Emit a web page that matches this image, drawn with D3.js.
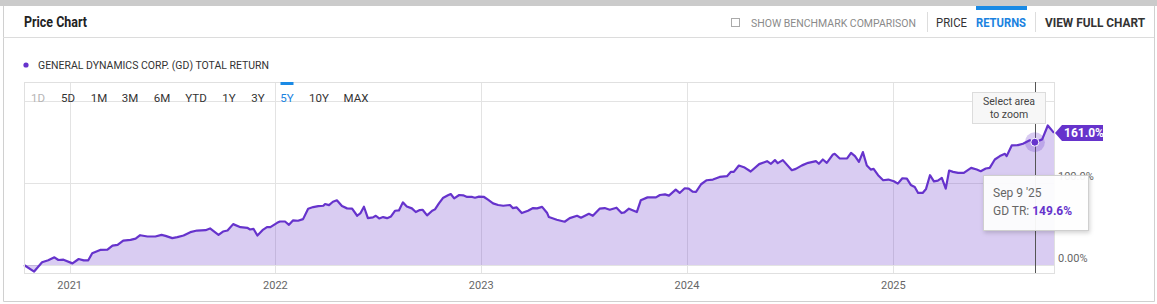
<!DOCTYPE html>
<html>
<head>
<meta charset="utf-8">
<script src="https://cdn.jsdelivr.net/npm/d3@7"></script>
<style>
  body { margin: 0; background: #fff; }
  svg { display: block; font-family: Roboto, "Noto Sans", sans-serif; }
</style>
</head>
<body>
<div id="chart"></div>
<script>
// data (weekly-ish points)
const dates = [
  "2020-10-12","2020-10-30","2020-11-13","2020-11-24","2020-12-05","2020-12-12","2020-12-21",
  "2021-01-06","2021-01-17","2021-01-26","2021-02-03","2021-02-10","2021-02-24","2021-03-09","2021-03-18","2021-03-27",
  "2021-04-06","2021-04-19","2021-04-28","2021-05-06","2021-05-19","2021-06-02","2021-06-13","2021-06-20","2021-07-02",
  "2021-07-11","2021-07-22","2021-08-03","2021-08-15","2021-08-30","2021-09-07","2021-09-22","2021-09-30","2021-10-08",
  "2021-10-18","2021-10-31","2021-11-12","2021-11-17","2021-11-23","2021-11-30","2021-12-09","2021-12-17","2021-12-23",
  "2022-01-04","2022-01-09","2022-01-18","2022-01-25","2022-02-01","2022-02-10","2022-02-19","2022-02-28","2022-03-09",
  "2022-03-18","2022-03-27","2022-03-30","2022-04-06","2022-04-13","2022-04-20","2022-04-29","2022-05-08","2022-05-17",
  "2022-05-26","2022-06-01","2022-06-07","2022-06-14","2022-06-23","2022-06-28","2022-07-04","2022-07-11","2022-07-18",
  "2022-07-25","2022-08-01","2022-08-08","2022-08-15","2022-08-22","2022-08-31","2022-09-07","2022-09-14","2022-09-19",
  "2022-09-27","2022-10-06","2022-10-11","2022-10-18","2022-10-25","2022-11-03","2022-11-08","2022-11-14","2022-11-23",
  "2022-11-30","2022-12-07","2022-12-16","2022-12-21","2022-12-28",
  "2023-01-06","2023-01-13","2023-01-22","2023-01-31","2023-02-09","2023-02-21","2023-02-26","2023-03-05","2023-03-14",
  "2023-03-25","2023-04-03","2023-04-10","2023-04-19","2023-04-28","2023-05-01","2023-05-15","2023-05-29","2023-06-07",
  "2023-06-20","2023-06-27","2023-07-11","2023-07-18","2023-07-30","2023-08-08","2023-08-17","2023-08-29","2023-09-07",
  "2023-09-12","2023-09-20","2023-10-04","2023-10-11","2023-10-23","2023-11-07","2023-11-14","2023-11-23","2023-11-30",
  "2023-12-12","2023-12-19","2023-12-28",
  "2024-01-04","2024-01-11","2024-01-17","2024-01-26","2024-02-05","2024-02-16","2024-02-28","2024-03-12","2024-03-19",
  "2024-03-24","2024-04-02","2024-04-11","2024-04-23","2024-05-08","2024-05-22","2024-05-29","2024-06-05","2024-06-10",
  "2024-06-19","2024-07-05","2024-07-12","2024-07-23","2024-08-03","2024-08-17","2024-08-22","2024-08-29","2024-09-05",
  "2024-09-16","2024-09-19","2024-09-28","2024-10-11","2024-10-18","2024-10-25","2024-11-01","2024-11-08","2024-11-15",
  "2024-11-22","2024-11-27","2024-12-05","2024-12-14","2024-12-23",
  "2025-01-02","2025-01-09","2025-01-17","2025-01-25","2025-02-01","2025-02-08","2025-02-14","2025-02-22","2025-02-28",
  "2025-03-07","2025-03-14","2025-03-21","2025-03-28","2025-04-04","2025-04-10","2025-04-17","2025-04-26","2025-05-06",
  "2025-05-19","2025-05-29","2025-06-05","2025-06-14","2025-06-21","2025-06-30","2025-07-09","2025-07-18","2025-07-21",
  "2025-07-30","2025-08-10","2025-08-19","2025-08-31","2025-09-09","2025-09-22","2025-10-02","2025-10-13"
];
const totalReturn = [
  0, -8, 3.3, 5.7, 9.4, 6.1, 6.5,
  2, 7.3, 5.7, 5.7, 14.3, 18.4, 18.8, 23.7, 24.5,
  29.8, 30.6, 32.2, 36.3, 34.7, 34.7, 36.7, 35.5, 32.7,
  33.9, 35.9, 40, 42, 42.4, 44.5, 36.7, 40.8, 42,
  49.8, 46.1, 45.3, 43.3, 44.1, 35.9, 42.4, 46.1, 46.1,
  51.4, 53, 53, 49, 54.3, 53.9, 55.9, 68.6, 70.6,
  71.8, 72.2, 74.3, 73, 77.1, 78.8, 71.8, 69, 68.6,
  60, 63.3, 71, 57.1, 58, 60, 56.7, 58.4, 57.1,
  59.2, 66.1, 66.5, 76.3, 71.4, 69, 64.5, 66.9, 67.3,
  60.4, 66.1, 67.8, 75.1, 81.6, 84.9, 86.5, 81.2, 85.3,
  84.9, 82.9, 82.9, 82, 83.3,
  82.9, 79.6, 75.1, 73.1, 72.2, 73.1, 69.4, 70.2, 63.3,
  66.1, 69.4, 69, 70.8, 63.3, 58.4, 55.1, 52.7, 57.1,
  60, 57.6, 62.4, 60, 68.6, 69.4, 67.3, 69.8, 63.3,
  64.1, 68.6, 64.5, 78.8, 82.4, 82.4, 85.3, 86.1, 84.5,
  91.8, 87.8, 93.5,
  93.1, 89.4, 89, 98.4, 103.3, 104.1, 107.3, 108.2, 113.5,
  113.5, 121.2, 119.2, 113.9, 122.9, 126.5, 123.3, 127.8, 124.1,
  127.8, 115.5, 117.1, 121.4, 124.5, 126.5, 123.3, 128.6, 124.5,
  134.7, 135.5, 129.8, 129.8, 136.7, 132.7, 125.7, 137.6, 121.2,
  116.3, 117.1, 109.4, 103.3, 104.1,
  102, 99.2, 105.7, 105.3, 97.6, 95.1, 87.8, 87.8, 92.7,
  109.4, 102, 102.9, 106.1, 93.1, 115.1, 113.5, 112.2, 112.2,
  118.4, 116.3, 114.3, 117.6, 118.4, 128.6, 132.7, 135.5, 132.7,
  145.7, 146.1, 147.8, 152, 149.6, 153.1, 170, 161.0
];
const yearTicks = [2021, 2022, 2023, 2024, 2025];
const yGridValues = [0, 100, 200];
const yTickLabels = ["0.00%", "100.0%"];
const ranges = ["1D", "5D", "1M", "3M", "6M", "YTD", "1Y", "3Y", "5Y", "10Y", "MAX"];
const activeRange = "5Y";
const hoverDate = "2025-09-09";

const W = 1157, H = 304;
const plot = { left: 24, right: 1054, top: 82, bottom: 273 };
const purple = "#6633cc";

const parse = d3.timeParse("%Y-%m-%d");
const data = dates.map((d, i) => ({ date: parse(d), v: totalReturn[i] }));

const svg = d3.select("#chart").append("svg")
  .attr("width", W)
  .attr("height", H);

const defs = svg.append("defs");
const shadow = defs.append("filter").attr("id", "shadow")
  .attr("x", "-20%").attr("y", "-20%").attr("width", "150%").attr("height", "160%");
shadow.append("feDropShadow")
  .attr("dx", 1).attr("dy", 2).attr("stdDeviation", 2)
  .attr("flood-color", "#000").attr("flood-opacity", 0.18);

// outer frame
svg.append("rect").attr("x", 0).attr("y", 0).attr("width", W).attr("height", 6).attr("fill", "#cbcbcb");
svg.append("path")
  .attr("d", `M3.5,6 V301.5 H1154.5 V6`)
  .attr("fill", "none").attr("stroke", "#d0d0d0");
svg.append("line").attr("x1", 3).attr("x2", 1154).attr("y1", 37.5).attr("y2", 37.5).attr("stroke", "#dcdcdc");

// header
svg.append("text").attr("x", 24).attr("y", 27)
  .style("font-size", "15px").style("font-weight", "bold").attr("fill", "#222")
  .attr("textLength", 63).attr("lengthAdjust", "spacingAndGlyphs")
  .text("Price Chart");

svg.append("rect").attr("x", 731.5).attr("y", 18.5).attr("width", 8).attr("height", 8)
  .attr("fill", "#fff").attr("stroke", "#aaa");
svg.append("text").attr("x", 751).attr("y", 26.5)
  .style("font-size", "11px").attr("fill", "#8a8a8a")
  .attr("textLength", 165).attr("lengthAdjust", "spacingAndGlyphs")
  .text("SHOW BENCHMARK COMPARISON");
svg.append("line").attr("x1", 927.5).attr("x2", 927.5).attr("y1", 12).attr("y2", 32).attr("stroke", "#ddd");
svg.append("text").attr("x", 936).attr("y", 26.5)
  .style("font-size", "12px").attr("fill", "#333")
  .attr("textLength", 31).attr("lengthAdjust", "spacingAndGlyphs")
  .text("PRICE");
svg.append("rect").attr("x", 976).attr("y", 6).attr("width", 51).attr("height", 4).attr("fill", "#1a8ae5");
svg.append("text").attr("x", 976).attr("y", 26.5)
  .style("font-size", "12px").style("font-weight", "bold").attr("fill", "#1a82e0")
  .attr("textLength", 50).attr("lengthAdjust", "spacingAndGlyphs")
  .text("RETURNS");
svg.append("line").attr("x1", 1035.5).attr("x2", 1035.5).attr("y1", 12).attr("y2", 32).attr("stroke", "#ddd");
svg.append("text").attr("x", 1045).attr("y", 26.5)
  .style("font-size", "12px").style("font-weight", "bold").attr("fill", "#333")
  .attr("textLength", 100).attr("lengthAdjust", "spacingAndGlyphs")
  .text("VIEW FULL CHART");

// legend
svg.append("circle").attr("cx", 26).attr("cy", 65).attr("r", 2.6).attr("fill", purple);
svg.append("text").attr("x", 38).attr("y", 69)
  .style("font-size", "11px").attr("fill", "#333")
  .attr("textLength", 231).attr("lengthAdjust", "spacingAndGlyphs")
  .text("GENERAL DYNAMICS CORP. (GD) TOTAL RETURN");

// scales
const x = d3.scaleTime()
  .domain(d3.extent(data, d => d.date))
  .range([plot.left, plot.right]);
const y = d3.scaleLinear()
  .domain([-9.75, 223])
  .range([plot.bottom, plot.top]);

// grid
const grid = svg.append("g");
grid.selectAll(".hg").data(yGridValues).enter().append("line")
  .attr("x1", plot.left).attr("x2", plot.right)
  .attr("y1", d => Math.round(y(d)) + 0.5).attr("y2", d => Math.round(y(d)) + 0.5)
  .attr("stroke", "#e3e3e3");
grid.selectAll(".vg").data(yearTicks).enter().append("line")
  .attr("x1", d => Math.round(x(new Date(d, 0, 1))) + 0.5)
  .attr("x2", d => Math.round(x(new Date(d, 0, 1))) + 0.5)
  .attr("y1", plot.top).attr("y2", plot.bottom)
  .attr("stroke", "#e3e3e3");

// area + line
const area = d3.area()
  .x(d => x(d.date))
  .y0(y(0))
  .y1(d => y(d.v));
const line = d3.line()
  .x(d => x(d.date))
  .y(d => y(d.v));

svg.append("path").datum(data)
  .attr("d", area)
  .attr("fill", purple).attr("fill-opacity", 0.25);
svg.append("path").datum(data)
  .attr("d", line)
  .attr("fill", "none").attr("stroke", purple)
  .attr("stroke-width", 2.2).attr("stroke-linejoin", "round");

// plot box
svg.append("rect")
  .attr("x", plot.left + 0.5).attr("y", plot.top + 0.5)
  .attr("width", plot.right - plot.left).attr("height", plot.bottom - plot.top)
  .attr("fill", "none").attr("stroke", "#e0e0e0");

// x labels
svg.append("g").selectAll("text").data(yearTicks).enter().append("text")
  .attr("x", d => x(new Date(d, 0, 1)))
  .attr("y", 289)
  .attr("text-anchor", "middle")
  .style("font-size", "11px").attr("fill", "#666")
  .text(d => d);

// y labels on the right
svg.append("g").selectAll("text").data(yTickLabels).enter().append("text")
  .attr("x", 1058)
  .attr("y", (d, i) => y(yGridValues[i]) - 3)
  .style("font-size", "11px").attr("fill", "#666")
  .text(d => d);

// range buttons
const btnX = [38, 68, 99, 130, 162, 196, 229, 258, 287, 319, 356];
const btns = svg.append("g");
btns.selectAll("text").data(ranges).enter().append("text")
  .attr("x", (d, i) => btnX[i])
  .attr("y", 101.5)
  .attr("text-anchor", "middle")
  .style("font-size", "11.5px")
  .attr("fill", d => d === activeRange ? "#1a82e0" : (d === "1D" ? "#b5b5b5" : "#333"))
  .text(d => d);
btns.append("rect")
  .attr("x", btnX[ranges.indexOf(activeRange)] - 6.5).attr("y", 82)
  .attr("width", 13).attr("height", 3).attr("fill", "#1a8ae5");

// crosshair + hover point
const hover = data.find(d => d3.timeFormat("%Y-%m-%d")(d.date) === hoverDate);
const hx = x(hover.date), hy = y(hover.v);
svg.append("line")
  .attr("x1", Math.round(hx) + 0.5).attr("x2", Math.round(hx) + 0.5)
  .attr("y1", plot.top).attr("y2", plot.bottom)
  .attr("stroke", "#555");
svg.append("circle").attr("cx", hx).attr("cy", hy).attr("r", 10)
  .attr("fill", purple).attr("fill-opacity", 0.25);
svg.append("circle").attr("cx", hx).attr("cy", hy).attr("r", 4)
  .attr("fill", purple).attr("stroke", "#fff").attr("stroke-width", 1);

// "Select area to zoom" hint
const hint = svg.append("g");
hint.append("rect").attr("x", 972.5).attr("y", 92.5).attr("width", 73).attr("height", 31)
  .attr("fill", "#f7f7f7").attr("stroke", "#dcdcdc");
hint.append("text").attr("x", 1009).attr("y", 105)
  .attr("text-anchor", "middle").style("font-size", "10.5px").attr("fill", "#444")
  .text("Select area");
hint.append("text").attr("x", 1009).attr("y", 118)
  .attr("text-anchor", "middle").style("font-size", "10.5px").attr("fill", "#444")
  .text("to zoom");

// last value flag
const last = data[data.length - 1];
const fy = y(last.v);
svg.append("path")
  .attr("d", `M1055,${fy} L1062,${fy - 8} H1103 V${fy + 8} H1062 Z`)
  .attr("fill", purple);
svg.append("text").attr("x", 1064).attr("y", fy + 4.5)
  .style("font-size", "12px").style("font-weight", "bold").attr("fill", "#fff")
  .text(d3.format(".1f")(last.v) + "%");

// tooltip
const tip = svg.append("g");
tip.append("rect").attr("x", 983.5).attr("y", 175.5).attr("width", 105).attr("height", 55)
  .attr("fill", "#fff").attr("fill-opacity", 0.93).attr("stroke", "#cfcfcf")
  .attr("filter", "url(#shadow)");
tip.append("text").attr("x", 993).attr("y", 197)
  .style("font-size", "12px").attr("fill", "#666")
  .text(d3.timeFormat("%b %-d '%y")(hover.date));
const tr = tip.append("text").attr("x", 993).attr("y", 215)
  .style("font-size", "12px").attr("fill", "#666");
tr.append("tspan").text("GD TR: ");
tr.append("tspan").style("font-weight", "bold").attr("fill", purple)
  .text(d3.format(".1f")(hover.v) + "%");
</script>
</body>
</html>
